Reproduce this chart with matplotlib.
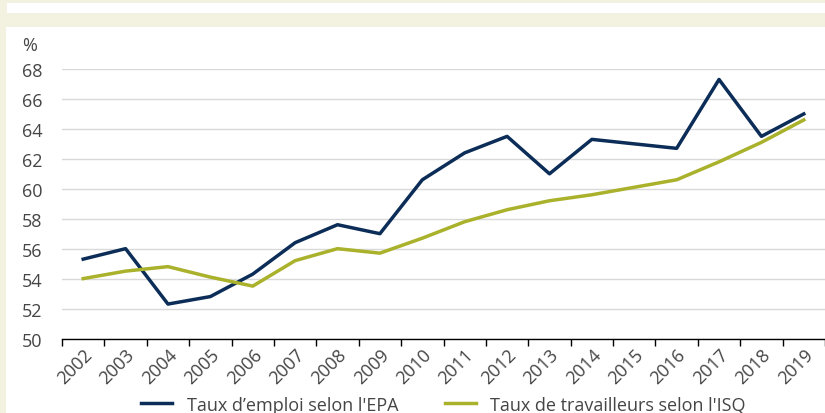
import numpy as np
import matplotlib.pyplot as plt
from matplotlib.patches import Rectangle

years = [str(y) for y in range(2002, 2020)]
epa = [55.3, 56.0, 52.3, 52.8, 54.3, 56.4, 57.6, 57.0, 60.6,
       62.4, 63.5, 61.0, 63.3, 63.0, 62.7, 67.3, 63.5, 65.0]
isq = [54.0, 54.5, 54.8, 54.1, 53.5, 55.2, 56.0, 55.7, 56.7,
       57.8, 58.6, 59.2, 59.6, 60.1, 60.6, 61.8, 63.1, 64.6]
labels = ["Taux d\u2019emploi selon l'EPA", "Taux de travailleurs selon l'ISQ"]

plt.rcParams['font.family'] = ['Open Sans', 'DejaVu Sans']
txt = '#454545'
beige = '#F3F1DF'
fs = 13

W, H = 825, 414
fig = plt.figure(figsize=(W / 100, H / 100), dpi=100, facecolor=beige)

def px_rect(x0, y0, x1, y1):
    # rectangle in pixel coords (origin top-left)
    return Rectangle((x0 / W, 1 - y1 / H), (x1 - x0) / W, (y1 - y0) / H,
                     transform=fig.transFigure, facecolor='white',
                     edgecolor='none', zorder=-1)

fig.patches.append(px_rect(7, 3.5, W, 14))
fig.patches.append(px_rect(6, 28, W, H))

ax = fig.add_axes([62 / W, 1 - 339.5 / H, (W - 62) / W, (339.5 - 70) / H])
ax.set_facecolor('none')

x = np.arange(len(years))
ax.plot(x, epa, color='#0C2D57', linewidth=2.5, label=labels[0], zorder=3)
ax.plot(x, isq, color='#AAB12B', linewidth=2.5, label=labels[1], zorder=3)

ax.set_xlim(-0.5, len(years) - 0.5)
ax.set_ylim(50, 68)
ax.set_yticks(np.arange(50, 69, 2))
ax.yaxis.grid(True, color='#D9D9D9', linewidth=1)
ax.set_axisbelow(True)
for s in ['top', 'right', 'left']:
    ax.spines[s].set_visible(False)
ax.spines['bottom'].set_color('black')
ax.spines['bottom'].set_linewidth(1)

ax.set_xticks(x)
ax.set_xticklabels(years, rotation=45, ha='right', va='top', rotation_mode='anchor')
ax.set_xticks(np.arange(-0.5, len(years), 1), minor=True)
ax.tick_params(axis='x', which='major', length=0, pad=5, labelsize=fs, labelcolor=txt)
ax.tick_params(axis='x', which='minor', length=5, width=1, color='black')
ax.tick_params(axis='y', length=0, pad=14, labelsize=fs, labelcolor=txt)

fig.text(22 / W, 1 - 46 / H, '%', fontsize=fs, color=txt, va='center', ha='left')

leg = ax.legend(loc='center', bbox_to_anchor=(0.5, -0.245), ncol=2, frameon=False,
                fontsize=fs, handlelength=1.7, columnspacing=2.6, handletextpad=0.8)
for t in leg.get_texts():
    t.set_color(txt)

fig.savefig('out.png', dpi=100, facecolor=beige)
